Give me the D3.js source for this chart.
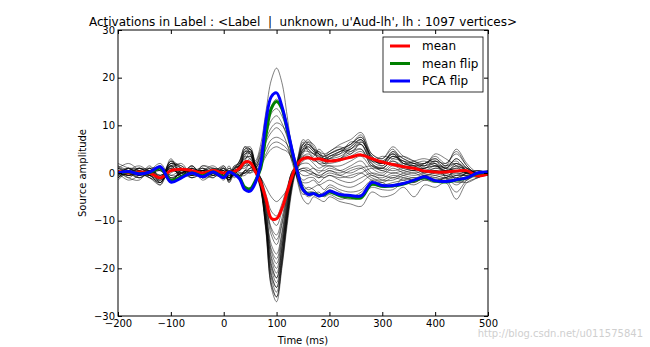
<!DOCTYPE html>
<html><head><meta charset="utf-8">
<script src="https://cdn.jsdelivr.net/npm/d3@7"></script>
<style>
body{margin:0;background:#fff}
svg{display:block}
text{font-family:"DejaVu Sans",sans-serif}
</style>
</head><body>
<svg id="chart" width="650" height="347"></svg>
<script>
// ---- data ----
const titleText = "Activations in Label : <Label  |  unknown, u'Aud-lh', lh : 1097 vertices>";
const xTicks = [-200, -100, 0, 100, 200, 300, 400, 500];
const yTicks = [-30, -20, -10, 0, 10, 20, 30];
const seriesNames = ["mean", "mean flip", "PCA flip"];

const times = [-200,-180,-160,-140,-120,-100,-80,-60,-40,-20,
  0,10,20,30,40,50,60,
  70,80,90,100,110,120,130,140,
  150,160,170,180,190,200,
  220,240,260,280,300,320,340,360,380,400,420,440,460,480,500];

const meanVals = [0.3,0,0.2,0,-1,0.5,0.8,0.5,0,0.5,
  0,0.2,0.3,1,2.3,2.2,0.3,
  -2,-5.5,-9.5,-9.6,-7.5,-4,-0.5,2,
  3,3.2,2.9,3,2.7,2.5,
  2.8,3.3,3.8,3,2.3,1.8,1.3,1,0.4,0.2,0.2,0.4,0.5,-0.6,-0.2];

const meanFlipVals = [0,0.2,-0.1,0.1,1,-1.5,-0.8,0,-0.6,0.2,
  -0.8,0.2,-0.2,-1,-3,-3.3,-1.6,
  1,8,13.5,15,13.5,9.2,4.3,0,
  -3.4,-4.4,-4.3,-4.7,-4.6,-4,
  -4.8,-5.1,-5.2,-2.4,-2.8,-2.7,-2.3,-1.6,-1,-1.7,-1.9,-1.5,-1,-0.1,0.1];

const pcaFlipVals = [0,0.3,-0.2,0.2,1.3,-1.9,-1,0,-0.8,0.2,
  -1,0.2,-0.3,-1.2,-3.5,-3.8,-2,
  2,11,16,16.8,14,9.5,4.5,0,
  -3.5,-4.5,-4.3,-4.8,-4.5,-3.8,
  -4.5,-4.7,-4.8,-2,-2.6,-2.6,-2.2,-1.5,-0.8,-1.6,-1.8,-1.4,-1,0,0.2];

// individual vertex time courses (thin black lines)
const vertexTraces = [
 [1.5,0.5,-0.5,0.5,-1.5,2.5,0,1.5,-1,0.5, 1,-1.5,0.5,2,5,5.5,1.5, -3,-12,-24,-27,-20,-11,-3,2, 6,7,5.5,4,3.5,4, 5,6,8,3,2,4.5,3,2,1.5,2.5,1,3,1,-0.5,0],
 [0.5,-1,0.5,-0.5,-2,2,1,0.5,1,-0.5, 0.5,-2,0,1.5,4.5,5,1, -3.5,-12,-23,-26,-19.5,-10,-2.5,2.5, 5.5,6,5,3.5,3,3.5, 4.5,5.5,7,2.5,2.5,4,2,1.5,2,3,1.5,5,2,0,-0.5],
 [-1,0,1,0.5,-1,1.5,-0.5,1,-1.5,0, 1.5,-1,0.5,1,4,4.5,0.5, -3,-11,-22,-25,-18.5,-9.5,-2,3, 6.5,5,4,4.5,3,3, 3.5,5,6.5,3.5,1.5,3.5,2.5,1,1,2,0,2,0.5,-1,0.5],
 [2,1,0,-1,-2.5,1.5,1.5,-0.5,0.5,1, -0.5,-1.5,1,2.5,5.5,4,1, -2.5,-11,-21,-24,-18,-9,-1.5,2, 5,6.5,6,4,2.5,3, 4.5,6,7.5,4,3,5,2,2,2.5,1.5,1,-1.5,-2,-1,0],
 [0,-1.5,-0.5,1,-1,2.5,0.5,1,0,-1, 1,-0.5,0,1.5,3.5,5,2, -2,-10,-20,-23,-17,-8.5,-2,1.5, 4.5,5.5,4.5,3,3.5,4.5, 5.5,4.5,6,2,1,3,3.5,2.5,1.5,4,3,1.5,0,0.5,0],
 [1,0.5,-1,0,-0.5,1,2,-0.5,1.5,0.5, 0,-1.5,1.5,1,4.5,4,0, -3.5,-10.5,-19,-22,-16,-8,-1,2.5, 6,4.5,3.5,5,4,2.5, 3,5.5,7,3,2,4,1.5,0.5,2,2.5,2,4,1.5,-0.5,-0.5],
 [-0.5,1,0.5,-0.5,-2,0.5,0,1.5,-0.5,0, 0.5,-1,-0.5,2,3,3.5,1.5, -2,-9,-18,-21,-15.5,-7.5,-1,1.5, 5,5,4,3.5,2,3.5, 4,6.5,6,2.5,3.5,3,2.5,1.5,0.5,1.5,0.5,1,1,0,0],
 [1,0,-0.5,1.5,-1,2,1,0,0.5,-1, 1.5,0,0.5,1,2.5,4.5,0.5, -3,-9.5,-17.5,-20,-14.5,-7,-0.5,2, 4,6,5,3,3,4, 5,4,6.5,3.5,2,4.5,2,2.5,3,2,-1,-4,-1.5,-0.5,0.5],
 [0.5,-0.5,0,-1,-1.5,1.5,-1,1,0,0.5, -0.5,-1,1,1.5,3.5,3,1, -1.5,-8.5,-16.5,-19,-14,-6.5,-0.5,1, 3.5,4,3,2,1.5,2.5, 3,4.5,5,1.5,1,2.5,1,0.5,1,1.5,1.5,2.5,0.5,0,0],
 [-1,0.5,1,0,-1,0.5,0.5,-0.5,1,0, 0.5,-1,0,0.5,2,3,1, -1,-7.5,-15,-17,-12.5,-5.5,0,1.5, 3,3.5,2.5,2.5,2,2, 2.5,3.5,4.5,2,0.5,2,1.5,1,0,1,0.5,1,0,-0.5,0],
 [0.5,0,-1,0.5,-0.5,1,-0.5,0.5,-0.5,1, 0,-1.5,0.5,1,2.5,2,0, -1.5,-7,-13,-15,-11,-5,0,1, 2.5,3,2,1,1.5,1.5, 1.5,2.5,3.5,1,0,1.5,0.5,0,0.5,0.5,0,1.5,0.5,0,0],
 [0,1,0,-0.5,-1.5,0,1,0,0.5,-0.5, 1,0,-0.5,1.5,1.5,2.5,0.5, -1,-6,-11.5,-13,-9.5,-4,0.5,1.5, 2,2,1,0.5,0.5,1, 0.5,1.5,2.5,0,-0.5,1,0,-0.5,0,0.5,-0.5,-1,0,0.5,0],
 [-0.5,0,0.5,1,-0.5,0.5,0,-1,0,0.5, -0.5,-0.5,0.5,0.5,2,1.5,0, -1.5,-5.5,-9.5,-11,-8,-3.5,0,0.5, 1,1,0,-0.5,0,0.5, 0,1,1.5,-0.5,-1,0,-0.5,-1,-0.5,0,-0.5,0,-0.5,0,0],
 [0.5,-0.5,0,0.5,-1,1,-0.5,0.5,0.5,0, 0,-1,0,1,1,2,0.5, -1,-4.5,-8,-9,-6.5,-3,0,0, 0.5,0,-0.5,-1,-0.5,0, -0.5,0.5,1,-1,-1.5,-0.5,-1,-1.5,-0.5,-0.5,-1,0.5,0,0,0],
 [1,2,0.5,-1,-2,2.5,1,-1,1.5,1, 0.5,-2,1,2.5,5.5,5,1, -3,-12.5,-23.5,-26,-19,-10,-2,3, 7,6,5,4.5,4,4.5, 6,7,8.5,4,3,5.5,3.5,2.5,2,3.5,2,4.5,1.5,-0.5,0],
 [-1.5,0.5,1.5,0,-2.5,3,-0.5,1.5,-1,-0.5, 1,-1,1.5,2,5,5,1.5, -2.5,-11,-21.5,-24,-17.5,-9,-1.5,2.5, 6,6.5,5,4,3.5,4, 5,6,7.5,3.5,2.5,4,3,2,2,3,1.5,2,0.5,0,0],
 [0.5,-1,-1.5,1,-2,2,1.5,0,0.5,1.5, -0.5,-1.5,0.5,2.5,4.5,4.5,0.5, -3,-10.5,-19.5,-22,-16,-7.5,-1,2, 5,5.5,4.5,4,3,3.5, 4.5,5,7,3,2,3.5,2.5,2,1,2.5,1,3,1,0,0],
 [1.5,0,1,-0.5,-1,2,0,1,-1,0.5, 0,-1.5,1,1.5,4,4,1, -2,-8,-16,-18,-13,-6,0,2, 4.5,4.5,4,3,2.5,3, 4,5,6,2.5,1.5,3.5,2,1.5,1.5,2,1,2,1,0,0],
 [-0.5,1,-0.5,0.5,-2,1.5,0.5,0.5,0,0.5, 0.5,-1,0,1.5,3,3.5,1, -1.5,-6.5,-12,-14,-10.5,-4.5,0.5,1.5, 3.5,3.5,3,2,2,2.5, 3,4,5,1.5,1,2.5,1.5,1,1,1.5,0.5,1.5,0.5,0,0],
 [0.5,-0.5,1,0,-1,1.5,-1,0.5,-0.5,0.5, 0,-0.5,0.5,0.5,1.5,1.5,0, -1,-3,-5,-6,-5,-3.5,-1,0.5, 1,0.5,0,-0.5,-1,-0.5, -1,-0.5,0,-1.5,-2,-1,-1.5,-2,-1,-1,-1.5,-0.5,-0.5,0,0],
 [-1,0.5,0,-0.5,1,-1.5,0,-0.5,1,0, -1,1,0,-1,0.5,2,2.5, 6,13,19.5,22,19,12,4,-2, -5.5,-6.5,-5,-5.5,-6,-5, -6,-6.5,-7,-4,-5,-4.5,-3,-5,-2.5,-3,-2,-5.5,-2,-1,0],
 [0.5,-0.5,1,0,1.5,-1,-1,0,0.5,-0.5, -0.5,1.5,-0.5,-0.5,0,1,2, 5,10,14,15.5,13.5,9,3,-1.5, -4,-5,-4.5,-4,-5,-4.5, -5.5,-5,-4.5,-3,-3.5,-3.5,-2,-2.5,-1.5,-2,-1,-2,-1.5,0,0.5],
 [0,0.5,-0.5,0,1.5,-1.5,0,-0.5,0.5,0, -1,0.5,0,-0.5,0.5,1,1.5, 4.5,9,12.5,13.5,12,8.5,3,-1.5, -4.5,-4,-4,-5,-4.5,-3.5, -5,-5.5,-5,-2.5,-3,-2.5,-2,-2,-1,-1.5,-1,-2.5,-1,0,0],
 [-0.5,0,0.5,-0.5,0.5,-2,0.5,-1,0,0.5, -1.5,0.5,0.5,-0.5,-0.5,0.5,1, 4,8,11,12,10.5,7.5,3.5,-1, -3.5,-3,-3.5,-4.5,-4,-3, -4,-5,-4,-2,-2.5,-2,-1.5,-1,-1.5,-1,-0.5,-1.5,0,-0.5,0],
 [0,1,-0.5,0.5,2,-1,0,0.5,-1,0, -0.5,1,0,-1,0.5,0,1.5, 3.5,7,9.5,10.5,10,8,4,0, -2.5,-3.5,-3,-2.5,-3.5,-2.5, -3.5,-4,-3.5,-1.5,-2,-3,-1,-1.5,-0.5,-1.5,-1,-0.5,-0.5,0,0],
 [1,0,-1,0,0.5,-1.5,0.5,-0.5,0.5,0.5, 0,0.5,-1,0,0,1,1, 3,6.5,8.5,9.5,8.5,6,2,-1, -2,-2,-1.5,-2.5,-2,-1.5, -2.5,-3,-2,-0.5,-1.5,-1.5,-0.5,0,-1,-0.5,0,-1,0,0.5,0],
 [-1,0.5,0,1,1,-0.5,-0.5,0,0,-0.5, 0.5,0,0.5,-0.5,0.5,0.5,1, 2.5,5,7,7.5,7,6,3,0, -1.5,-1,-1,-2,-1,-0.5, -1.5,-2,-1,0,-0.5,-1,0,0.5,-0.5,0,0.5,-0.5,0.5,0,0],
 [0.5,0,0.5,-0.5,1,-1,0,0.5,-0.5,0, 0,0.5,0,-0.5,0,0,0.5, 2,4,6,6.5,6,5,2.5,0.5, -0.5,-0.5,0,-1,0,0.5, -0.5,-1,0,1,0.5,0,0.5,1,0,0.5,0.5,0,0,0,0],
 [0,-0.5,0,0.5,0.5,-0.5,0.5,0,0.5,0.5, -0.5,0,0.5,0,0,0.5,0.5, 1.5,3.5,5,5.5,5,4.5,3,1, 0.5,0.5,1,0,1,1.5, 0.5,0,1,1.5,1,0.5,1,1.5,0.5,1,1,0.5,0,0,0]
];

const seriesColors = ["#ff0000", "#008000", "#0000ff"];

// ---- drawing ----
const W = 650, H = 347;
const plot = {left: 118, right: 488, top: 30, bottom: 316};
const svg = d3.select("#chart");
svg.append("rect").attr("width", W).attr("height", H).attr("fill", "#fff");

const x = d3.scaleLinear().domain([-200, 500]).range([plot.left, plot.right]);
const y = d3.scaleLinear().domain([-30, 30]).range([plot.bottom, plot.top]);

svg.append("defs").append("clipPath").attr("id", "clip")
  .append("rect").attr("x", plot.left).attr("y", plot.top)
  .attr("width", plot.right - plot.left).attr("height", plot.bottom - plot.top);

const line = d3.line()
  .x((d, i) => x(times[i]))
  .y(d => y(d))
  .curve(d3.curveCatmullRom.alpha(0.5));

const g = svg.append("g").attr("clip-path", "url(#clip)");

g.selectAll("path.trace").data(vertexTraces).join("path")
  .attr("class", "trace")
  .attr("d", line)
  .attr("fill", "none")
  .attr("stroke", "#000")
  .attr("stroke-opacity", 0.85)
  .attr("stroke-width", 0.6);

const series = [meanVals, meanFlipVals, pcaFlipVals];
g.selectAll("path.series").data(series).join("path")
  .attr("class", "series")
  .attr("d", line)
  .attr("fill", "none")
  .attr("stroke", (d, i) => seriesColors[i])
  .attr("stroke-width", 3)
  .attr("stroke-linejoin", "round");

// axes
const fmt = d3.format("d");
const xb = svg.append("g").attr("transform", `translate(0,${plot.bottom})`)
  .call(d3.axisBottom(x).tickValues(xTicks).tickSize(-4).tickPadding(4).tickFormat(fmt));
const xt = svg.append("g").attr("transform", `translate(0,${plot.top})`)
  .call(d3.axisTop(x).tickValues(xTicks).tickSize(-4).tickFormat(""));
const yl = svg.append("g").attr("transform", `translate(${plot.left},0)`)
  .call(d3.axisLeft(y).tickValues(yTicks).tickSize(-4).tickPadding(3).tickFormat(fmt));
const yr = svg.append("g").attr("transform", `translate(${plot.right},0)`)
  .call(d3.axisRight(y).tickValues(yTicks).tickSize(-4).tickFormat(""));
[xb, xt, yl, yr].forEach(a => {
  a.select(".domain").remove();
  a.selectAll("line").attr("stroke", "#000");
  a.selectAll("text").attr("font-size", 10).attr("fill", "#000")
    .attr("font-family", "DejaVu Sans");
});

svg.append("rect").attr("x", plot.left).attr("y", plot.top)
  .attr("width", plot.right - plot.left).attr("height", plot.bottom - plot.top)
  .attr("fill", "none").attr("stroke", "#000").attr("stroke-width", 1);

// labels
svg.append("text").attr("x", 303).attr("y", 26).attr("text-anchor", "middle")
  .attr("font-size", 12).attr("fill", "#000").style("white-space", "pre")
  .attr("xml:space", "preserve").text(titleText);
svg.append("text").attr("x", 303).attr("y", 344).attr("text-anchor", "middle")
  .attr("font-size", 10).attr("fill", "#000").text("Time (ms)");
svg.append("text").attr("transform", "translate(86,173) rotate(-90)")
  .attr("text-anchor", "middle").attr("font-size", 10).attr("fill", "#000")
  .text("Source amplitude");

// legend
const lg = svg.append("g");
lg.append("rect").attr("x", 383).attr("y", 37).attr("width", 100).attr("height", 55)
  .attr("fill", "#fff").attr("stroke", "#000").attr("stroke-width", 0.8);
const rowsY = [46, 63.5, 81];
seriesNames.forEach((n, i) => {
  lg.append("line").attr("x1", 390).attr("x2", 410).attr("y1", rowsY[i]).attr("y2", rowsY[i])
    .attr("stroke", seriesColors[i]).attr("stroke-width", 3);
  lg.append("text").attr("x", 422).attr("y", rowsY[i]).attr("dy", "0.35em")
    .attr("font-size", 12).attr("fill", "#000").text(n);
});

// watermark
svg.append("text").attr("x", 643).attr("y", 337).attr("text-anchor", "end")
  .attr("font-size", 10).attr("fill", "#cfcfcf").text("http://blog.csdn.net/u011575841");
</script>
</body></html>
